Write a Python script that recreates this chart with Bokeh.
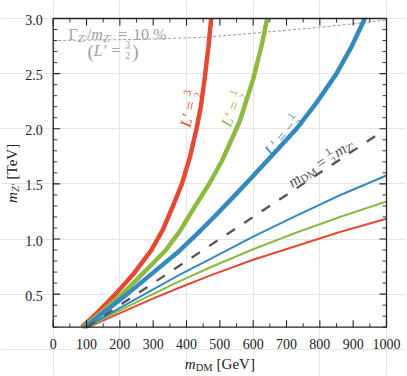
import math
from bokeh.plotting import figure
from bokeh.models import Range1d, Label
from bokeh.core.properties import value
from bokeh.embed import file_html
from bokeh.resources import INLINE

# ---------------- data ----------------
red_thick_x = [86, 135, 187, 240, 294, 330, 360, 386, 410, 430, 443, 455, 466, 474]
red_thick_y = [0.2, 0.34, 0.5, 0.68, 0.896, 1.09, 1.304, 1.5, 1.74, 2.0, 2.2, 2.47, 2.75, 3.0]

green_thick_x = [90, 150, 207, 270, 337, 380, 427, 470, 507, 560, 600, 625, 642]
green_thick_y = [0.2, 0.35, 0.5, 0.69, 0.896, 1.072, 1.304, 1.51, 1.712, 2.07, 2.45, 2.75, 3.0]

blue_thick_x = [95, 160, 222, 300, 380, 435, 487, 540, 592, 660, 730, 792, 850, 896, 935]
blue_thick_y = [0.2, 0.354, 0.5, 0.695, 0.896, 1.055, 1.213, 1.38, 1.546, 1.768, 2.0, 2.244, 2.5, 2.75, 3.0]

blue_thin_x = [100, 190, 292, 380, 472, 600, 722, 860, 1000]
blue_thin_y = [0.2, 0.358, 0.53, 0.676, 0.82, 1.021, 1.2, 1.397, 1.576]

green_thin_x = [102, 190, 292, 380, 472, 600, 722, 860, 1000]
green_thin_y = [0.2, 0.337, 0.49, 0.618, 0.744, 0.907, 1.05, 1.199, 1.34]

red_thin_x = [106, 190, 292, 380, 472, 600, 722, 860, 1000]
red_thin_y = [0.2, 0.314, 0.45, 0.56, 0.67, 0.812, 0.93, 1.064, 1.183]

half_x = [100, 975]          # m_DM = m_Z'/2
half_y = [0.2, 1.95]

width10_x = [0, 250, 454, 592, 800, 1000]   # Gamma/m = 10 %
width10_y = [2.80, 2.81, 2.83, 2.864, 2.92, 2.985]

x_ticks = list(range(0, 1001, 100))
x_minor = list(range(50, 1000, 100))
y_ticks = [0.5, 1.0, 1.5, 2.0, 2.5, 3.0]
y_minor = [round(0.2 + 0.1 * i, 1) for i in range(29) if round(0.2 + 0.1 * i, 1) not in y_ticks]
x_labels = [str(t) for t in x_ticks]
y_labels = [f"{t:.1f}" for t in y_ticks]

X_LO, X_HI = x_ticks[0], x_ticks[-1]
Y_LO, Y_HI = 0.2, 3.0

RED, GREEN, BLUE = "#E24A33", "#8EBA42", "#348ABD"
DARK = "#222222"
QFONT = "'Liberation Serif'"

# ---------------- layout geometry (pixels) ----------------
W, H = 406, 375
F_LEFT, F_RIGHT, F_TOP, F_BOTTOM = 52.7, 386.0, 18.0, 326.7
gx = (X_HI - X_LO) / (F_RIGHT - F_LEFT)      # data units per px (x)
gy = (Y_HI - Y_LO) / (F_BOTTOM - F_TOP)      # data units per px (y)

p = figure(width=W, height=H, output_backend="svg", toolbar_location=None,
           x_range=Range1d(X_LO - F_LEFT * gx, X_HI + (W - F_RIGHT) * gx),
           y_range=Range1d(Y_LO - (H - F_BOTTOM) * gy, Y_HI + F_TOP * gy),
           x_axis_location=None, y_axis_location=None, min_border=0)
p.outline_line_color = None
p.background_fill_color = "#ffffff"
p.border_fill_color = "#ffffff"

# ---------------- curves ----------------
p.line(width10_x, width10_y, line_color="#9a9a9a", line_width=1, line_dash="3 2")
p.line(red_thick_x, red_thick_y, line_color=RED, line_width=4.5)
p.line(green_thick_x, green_thick_y, line_color=GREEN, line_width=4.5)
p.line(blue_thick_x, blue_thick_y, line_color=BLUE, line_width=4.5)
p.line(red_thin_x, red_thin_y, line_color=RED, line_width=2)
p.line(green_thin_x, green_thin_y, line_color=GREEN, line_width=2)
p.line(blue_thin_x, blue_thin_y, line_color=BLUE, line_width=2)
p.line(half_x, half_y, line_color="#555555", line_width=2.3, line_dash="10 11")

# ---------------- frame box, ticks, tick labels ----------------
p.quad(left=[X_LO], right=[X_HI], bottom=[Y_LO], top=[Y_HI], fill_color=None,
       line_color=DARK, line_width=1.3)


def ticks(xs, ys, length, angle, width):
    p.ray(x=xs, y=ys, length=length, length_units="screen", angle=angle, angle_units="deg",
          line_color=DARK, line_width=width)


ticks(x_ticks, [Y_LO] * len(x_ticks), 7, 90, 1.1)
ticks(x_ticks, [Y_HI] * len(x_ticks), 7, -90, 1.1)
ticks(x_minor, [Y_LO] * len(x_minor), 4, 90, 0.9)
ticks(x_minor, [Y_HI] * len(x_minor), 4, -90, 0.9)
ticks([X_LO] * len(y_ticks), y_ticks, 7, 0, 1.1)
ticks([X_HI] * len(y_ticks), y_ticks, 7, 180, 1.1)
ticks([X_LO] * len(y_minor), y_minor, 4, 0, 0.9)
ticks([X_HI] * len(y_minor), y_minor, 4, 180, 0.9)

p.text(x=x_ticks, y=[Y_LO - 16.3 * gy] * len(x_ticks), text=x_labels,
       text_align="center", text_baseline="middle", text_font=value(QFONT),
       text_font_size="14px", text_color=DARK)
p.text(x=[X_LO - 10.4 * gx] * len(y_ticks), y=[t - 1.5 * gy for t in y_ticks], text=y_labels,
       text_align="right", text_baseline="middle", text_font=value(QFONT),
       text_font_size="14px", text_color=DARK)

# ---------------- rich text helper ----------------
ROMAN = {' ': .25, '(': .333, ')': .333, '[': .333, ']': .333, '=': .564, '%': .833,
         '/': .278, 'G': .722, 'e': .444, 'V': .722, 'T': .611, 'D': .722, 'M': .889,
         '.': .25, 'Γ': .578, '−': .564, '′': .275, '—': 1.0}
ITALIC = {'m': .722, 'L': .556, 'Z': .556, '′': .275}


def tw(txt, size, italic):
    tab = ITALIC if italic else ROMAN
    return sum(tab.get(c, ROMAN.get(c, .5)) for c in txt) * size


def rich(parts, x, y, angle_deg, color, center=False):
    items = []
    adv = 0.0
    for part in parts:
        kind = part[0]
        if kind == "gap":
            adv += part[1]
        elif kind == "frac":
            _, num, den, s = part
            wn, wd = tw(num, s, False), tw(den, s, False)
            w = max(wn, wd) + 2
            items.append((num, s, False, -5.8, adv + (w - wn) / 2))
            items.append((den, s, False, 5.2, adv + (w - wd) / 2))
            items.append(("—", w, False, -(4.0 - 0.25 * w), adv))
            adv += w
        else:
            _, t, s, it, sh = part
            items.append((t, s, it, sh, adv))
            adv += tw(t, s, it)
    start = -adv / 2 if center else 0.0
    a = math.radians(angle_deg)
    ux, uy = math.cos(a), math.sin(a)
    dx, dy = math.sin(a), -math.cos(a)
    for (t, s, it, sh, pos) in items:
        q = start + pos
        p.add_layout(Label(x=x, y=y, text=t, x_offset=q * ux + sh * dx, y_offset=q * uy + sh * dy,
                           angle=a, text_font=QFONT, text_font_size=f"{s}px",
                           text_font_style="italic" if it else "normal",
                           text_color=color, text_align="left", text_baseline="alphabetic"))


# axis labels
rich([("t", "m", 15, True, 0), ("t", "DM", 10.5, False, 3), ("gap", 4), ("t", "[GeV]", 15, False, 0)],
     (X_LO + X_HI) / 2, Y_LO - 37 * gy, 0, DARK, center=True)
rich([("t", "m", 15, True, 0), ("t", "Z′", 10.5, True, 3), ("gap", 4), ("t", "[TeV]", 15, False, 0)],
     X_LO - 41 * gx, (Y_LO + Y_HI) / 2, 90, DARK, center=True)

# curve labels
rich([("t", "L′", 16, True, 0), ("gap", 4), ("t", "=", 16, False, 0), ("gap", 4),
      ("frac", "3", "2", 10)], 408, 2.183, 77, RED, center=True)
rich([("t", "L′", 16, True, 0), ("gap", 4), ("t", "=", 16, False, 0), ("gap", 4),
      ("frac", "1", "2", 10)], 538, 2.182, 68, GREEN, center=True)
rich([("t", "L′", 16, True, 0), ("gap", 4), ("t", "=", 16, False, 0), ("gap", 4),
      ("t", "−", 16, False, 0), ("gap", 1), ("frac", "1", "2", 10)], 688, 1.943, 50, BLUE, center=True)
rich([("t", "m", 16, True, 0), ("t", "DM", 11, False, 3.5), ("gap", 4), ("t", "=", 16, False, 0),
      ("gap", 4), ("frac", "1", "2", 10), ("gap", 1), ("t", "m", 16, True, 0),
      ("t", "Z′", 11, True, 3.5)], 803, 1.692, 33.5, "#555555", center=True)

# width annotation
GRAY = "#a0a0a0"
rich([("t", "Γ", 16, False, 0), ("t", "Z′", 11, True, 3.5), ("t", "/", 16, False, 0),
      ("t", "m", 16, True, 0), ("t", "Z′", 11, True, 3.5), ("gap", 6), ("t", "=", 16, False, 0),
      ("gap", 6), ("t", "10", 16, False, 0), ("gap", 4), ("t", "%", 16, False, 0)],
     46, 2.859, 0, GRAY)
rich([("t", "(", 19, False, 1.5), ("t", "L′", 16, True, 0), ("gap", 4), ("t", "=", 16, False, 0),
      ("gap", 4), ("frac", "3", "2", 10), ("gap", 1), ("t", ")", 19, False, 1.5)],
     103, 2.71, 0, GRAY)

open("out.html", "w").write(file_html(p, INLINE))
